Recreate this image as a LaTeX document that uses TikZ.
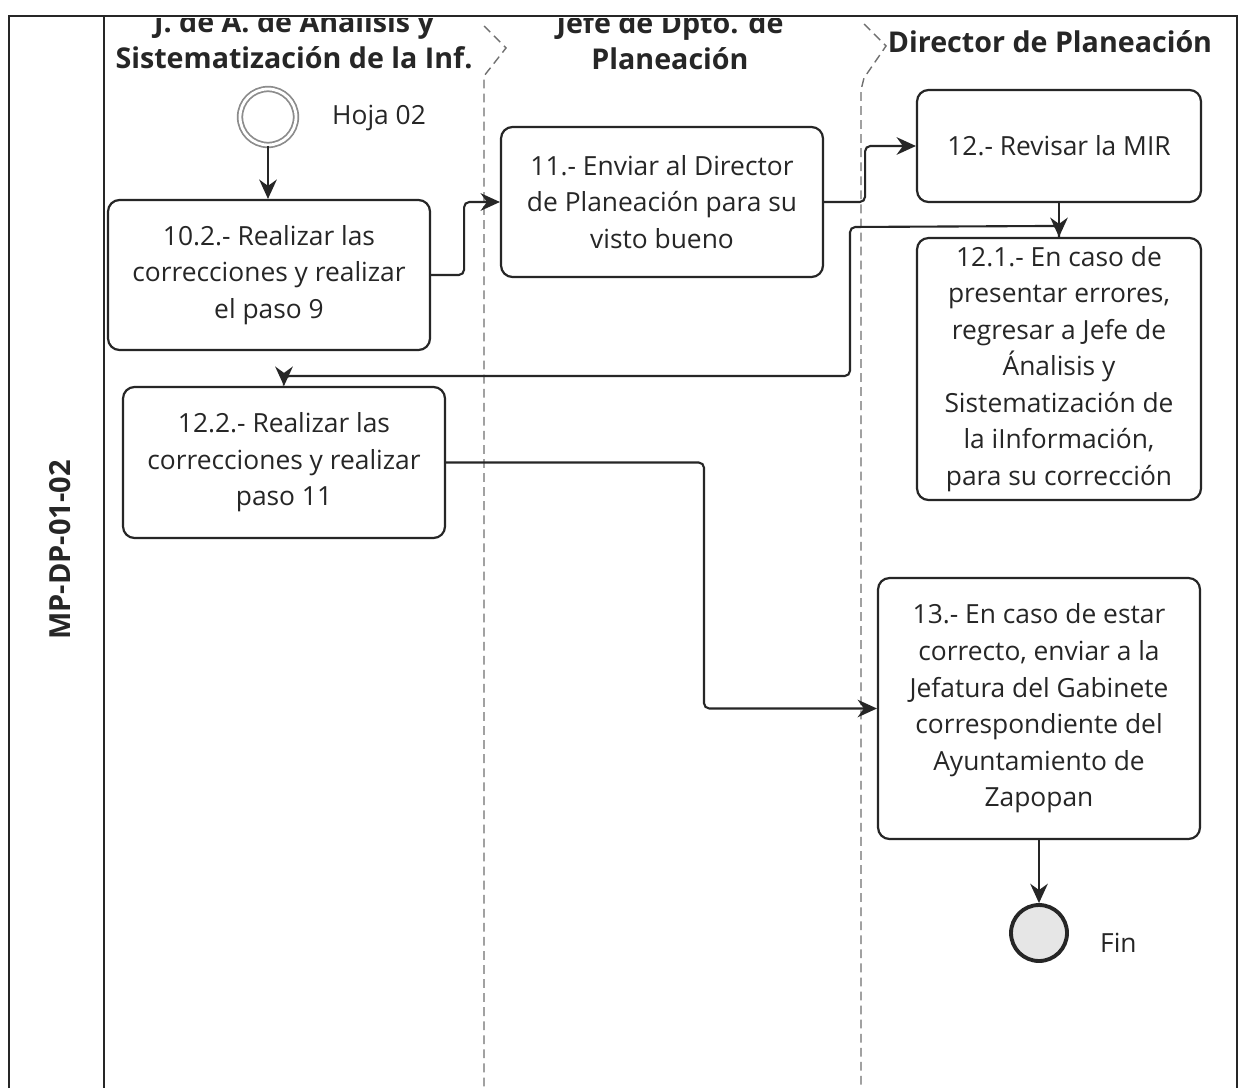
\documentclass[tikz,border=0pt]{standalone}
\usepackage{fontspec}
\setmainfont{Open Sans}
\usetikzlibrary{arrows.meta}
\definecolor{ink}{HTML}{262626}
\definecolor{laneline}{HTML}{707070}
\definecolor{startgray}{HTML}{8C8C8C}
\definecolor{endfill}{HTML}{E6E6E6}
\begin{document}
\begin{tikzpicture}[x=0.02cm,y=-0.02cm,
  task/.style={draw=ink, line width=1.25pt, rounded corners=6.5pt, fill=white,
    align=center, inner sep=0pt, text=ink,
    font=\fontsize{15}{20.8}\selectfont},
  flow/.style={draw=ink, line width=1.2pt, rounded corners=3pt,
    -{Stealth[length=11pt,width=10pt]}},
  lanehead/.style={align=center, text=ink, font=\fontsize{16.3}{20.6}\selectfont\bfseries},
  lanesep/.style={draw=laneline, line width=0.8pt, dash pattern=on 5pt off 3pt},
  plain/.style={text=ink, font=\fontsize{15}{20.8}\selectfont}]
\useasboundingbox (0,0) rectangle (1239,1088);
\fill[white] (0,0) rectangle (1239,1088);

% pool frame
\draw[ink, line width=1.2pt] (9,1088) -- (9,16) -- (1237,16) -- (1237,1088);
\draw[ink, line width=1.5pt] (104,16) -- (104,1088);
\node[rotate=90, text=ink, font=\fontsize{16.5}{20}\selectfont\bfseries] (pool) at (60,550) {MP-DP-01-02};

% lane separators
\draw[lanesep] (484,26) -- (506,48) -- (484,76) -- (484,1088);
\draw[lanesep] (864,24) -- (886,46) -- (864,78) -- (861,90) -- (861,1088);

% lane headers (cut by the pool's top edge)
\begin{scope}
  \clip (9,19) rectangle (1237,1088);
  \node[lanehead] (h1) at (294,40) {J. de A. de Analisis y\\Sistematización de la Inf.};
  \node[lanehead] (h2) at (670,41) {Jefe de Dpto. de\\Planeación};
  \node[lanehead] (h3) at (1050,42) {Director de Planeación};
\end{scope}

% events
\node[circle, draw=startgray, double=white, double distance=1.6pt, line width=1pt,
  minimum size=1.12cm, inner sep=0pt] (startev) at (268,117) {};
\node[plain, anchor=west] (startlbl) at (326,118) {Hoja 02};
\node[circle, draw=ink, fill=endfill, line width=2.2pt, minimum size=1.12cm,
  inner sep=0pt] (endev) at (1039,933) {};
\node[plain, anchor=west] (endlbl) at (1094,943) {Fin};

% tasks
\node[task, minimum width=6.44cm, minimum height=3.0cm] (n102) at (269,275)
  {10.2.- Realizar las\\correcciones y realizar\\el paso 9};
\node[task, minimum width=6.44cm, minimum height=3.0cm] (n11) at (662,202)
  {11.- Enviar al Director\\de Planeación para su\\visto bueno};
\node[task, minimum width=5.68cm, minimum height=2.24cm] (n12) at (1059,146)
  {12.- Revisar la MIR};
\node[task, minimum width=5.68cm, minimum height=5.24cm] (n121) at (1059,369)
  {12.1.- En caso de\\presentar errores,\\regresar a Jefe de\\Ánalisis y\\Sistematización de\\la iInformación,\\para su corrección};
\node[task, minimum width=6.44cm, minimum height=3.02cm] (n122) at (284,462.5)
  {12.2.- Realizar las\\correcciones y realizar\\paso 11};
\node[task, minimum width=6.44cm, minimum height=5.22cm] (n13) at (1039,708.5)
  {13.- En caso de estar\\correcto, enviar a la\\Jefatura del Gabinete\\correspondiente del\\Ayuntamiento de\\Zapopan};

% sequence flows
\draw[flow] (startev.south) -- (n102.north -| startev.south);
\draw[flow] (n102.east) -- ++(33,0) |- (n11.west);
\draw[flow] (n11.east) -- ++(41,0) |- (n12.west);
\draw[flow] (n12.south) -- (n121.north);
\draw[flow] (n121.north) -- ++(0,-11) -- (850,227) -- (850,376) -| (n122.north);
\draw[flow] (n122.east) -- (704,462.5) |- (n13.west);
\draw[flow] (n13.south) -- (endev.north);
\end{tikzpicture}
\end{document}
